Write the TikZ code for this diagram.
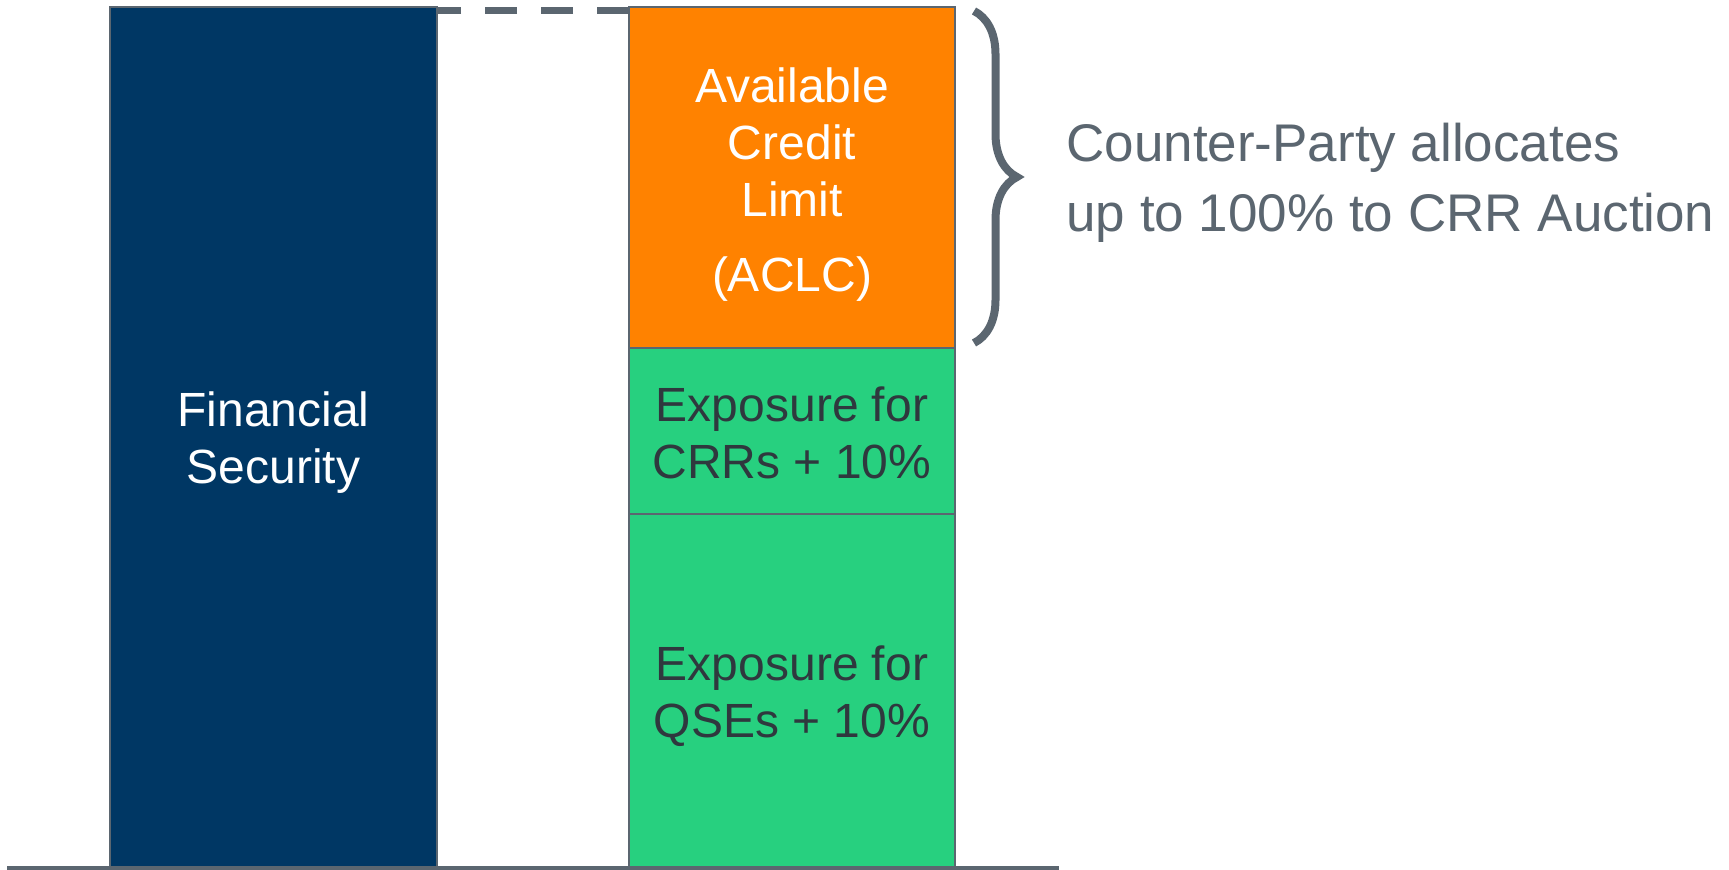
\documentclass[tikz,border=0pt]{standalone}
\usepackage{fontspec}
\setmainfont{Liberation Sans}
\usetikzlibrary{positioning,decorations.pathreplacing}
\definecolor{secblue}{RGB}{0,55,100}
\definecolor{creditorange}{RGB}{255,130,0}
\definecolor{exposgreen}{RGB}{39,208,127}
\definecolor{edgegray}{RGB}{91,102,112}
\definecolor{labeldark}{RGB}{47,56,62}

\begin{document}
\begin{tikzpicture}[x=0.5pt, y=-0.5pt,
    block/.style={draw=edgegray, line width=0.75pt, minimum width=163pt, inner sep=0pt, outer sep=0pt},
    blocktext/.style={align=center, inner sep=0pt, font=\fontsize{24}{28.5}\selectfont},
    dashline/.style={edgegray, line width=3.5pt, dash pattern=on 16pt off 12pt},
    groundline/.style={edgegray, line width=2pt},
    bracket/.style={edgegray, line width=4pt, decorate, decoration={brace, amplitude=21.5pt}},
    note/.style={text=edgegray, align=left, inner sep=0pt, font=\fontsize{26.5}{35}\selectfont}]
    \useasboundingbox (0,0) rectangle (1729,870);

    % Financial security bar
    \node[block, fill=secblue, minimum width=163.5pt, minimum height=430.5pt] (fs) at (273.5,437.5) {};
    \node[blocktext, text=white, yshift=-2.5pt] (fstext) at (fs.center) {Financial\\Security};

    % Credit limit column
    \node[block, fill=creditorange, minimum height=170.5pt, anchor=north west] (aclc) at (629,7) {};
    \node[block, fill=exposgreen, minimum height=83pt, below=0pt of aclc] (crr) {};
    \node[block, fill=exposgreen, minimum height=177pt, below=0pt of crr] (qse) {};
    \node[blocktext, text=white, yshift=-3.3pt] (aclctext) at (aclc.center) {Available\\Credit\\Limit\\[9pt](ACLC)};
    \node[blocktext, text=labeldark, yshift=-0.8pt] (crrtext) at (crr.center) {Exposure for\\CRRs + 10\%};
    \node[blocktext, text=labeldark, yshift=-2.8pt] (qsetext) at (qse.center) {Exposure for\\QSEs + 10\%};

    \draw[dashline] ([yshift=-1.75pt]aclc.north west) -- ([yshift=-1.75pt]fs.north east);

    % ground
    \coordinate (gl) at (7,868);
    \coordinate (gr) at (1059,868);
    \draw[groundline] (gl) -- (gr);

    % allocation brace
    \draw[bracket] ([xshift=9.5pt, yshift=-2pt]aclc.north east) -- ([xshift=9.5pt, yshift=2.5pt]aclc.south east);
    \node[note, anchor=west] (alloc) at (1066,182.5) {Counter-Party allocates\\up to 100\% to CRR Auction};
\end{tikzpicture}
\end{document}
